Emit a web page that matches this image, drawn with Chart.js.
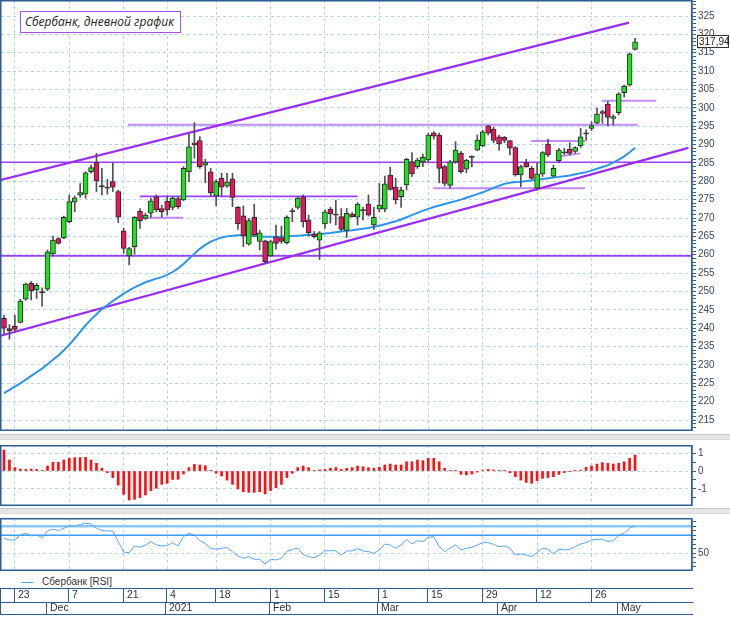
<!DOCTYPE html>
<html>
<head>
<meta charset="utf-8">
<script src="https://cdn.jsdelivr.net/npm/chart.js"></script>
<style>
body { margin: 0; background: #fff; }
#wrap { position: relative; width: 730px; height: 617px; overflow: hidden; background: #fff; }
#wrap canvas { position: absolute; left: 0; }
.sep { position: absolute; left: 0; width: 730px; height: 4px; background: #e6e6e6; border-top: 1px solid #c6c6c6; border-bottom: 1px solid #d8d8d8; }
#title { position: absolute; left: 20px; top: 11px; width: 161px; height: 22px; box-sizing: border-box; border: 1px solid #a64dff; background: #fff;
  font: italic 12px "Open Sans", sans-serif; color: #222; line-height: 19px; padding-left: 4px; white-space: nowrap; }
#legend { position: absolute; left: 21px; top: 575px; height: 13px; font: 10px "Liberation Sans", sans-serif; color: #333; line-height: 13px; }
#legend span { display: inline-block; width: 12px; height: 1px; background: #4da3ff; vertical-align: middle; margin-right: 9px; }
</style>
</head>
<body>
<div id="wrap">
  <canvas id="main" width="730" height="431" style="top:0"></canvas>
  <div class="sep" style="top:434px"></div>
  <canvas id="macd" width="730" height="61" style="top:445px"></canvas>
  <div class="sep" style="top:508px"></div>
  <canvas id="rsi" width="730" height="53" style="top:518px"></canvas>
  <div id="legend"><span></span>Сбербанк [RSI]</div>
  <canvas id="dates" width="730" height="31" style="top:586px"></canvas>
  <div id="title">Сбербанк, дневной график</div>
</div>
<script>
// daily candles, index 0 = 19 Nov 2020
var opens = [242.7,239.9,240.5,241.6,247.9,252.2,250.4,249.9,250.6,260.2,
  264.4,264.6,269.0,274.3,276.2,276.5,282.6,285.1,278.7,278.3,
  279.9,277.2,266.5,259.7,262.2,271.9,269.9,271.3,275.8,272.6,
  274.6,272.9,275.3,274.9,282.6,290.5,291.1,284.4,282.6,276.0,
  280.8,278.7,280.7,272.9,270.6,262.9,270.2,263.6,263.8,259.7,
  264.9,264.6,263.3,271.9,272.9,275.8,269.5,265.6,264.0,268.4,
  272.4,271.0,270.4,266.6,271.1,270.2,272.2,273.8,268.1,272.4,
  272.4,281.7,278.4,275.8,279.0,285.3,284.0,285.3,285.8,293.2,
  292.6,284.0,278.9,285.3,287.6,283.3,286.7,288.5,289.6,295.1,
  294.2,292.1,292.0,291.1,289.2,281.7,285.1,283.5,278.1,282.0,
  290.1,281.4,285.6,287.8,288.8,288.1,289.6,293.1,294.4,295.8,
  299.0,301.0,297.1,298.7,304.1,306.2,315.9];
var highs = [243.5,241.0,243.6,247.9,252.3,252.7,252.2,251.0,261.3,265.1,
  264.7,270.5,276.3,276.0,279.4,282.6,284.4,287.6,283.5,280.5,
  285.1,277.6,267.2,262.0,270.4,272.6,271.3,275.4,276.3,273.5,
  276.0,275.8,275.8,284.0,293.0,296.0,292.2,286.0,283.5,280.4,
  282.2,282.2,282.2,273.1,273.3,269.9,273.8,266.7,264.0,264.0,
  268.1,267.8,270.6,272.6,275.8,276.3,270.8,266.3,266.3,272.2,
  272.9,274.9,272.6,272.6,271.5,274.2,272.9,276.3,272.9,279.4,
  281.4,283.8,280.8,278.4,286.3,287.8,286.3,287.4,293.1,293.5,
  293.1,284.4,285.7,290.8,288.1,286.0,286.9,292.6,293.9,295.2,
  294.7,292.6,292.2,291.1,289.4,284.4,286.0,284.0,284.9,288.1,
  291.4,284.4,289.0,289.0,290.5,289.4,294.4,294.0,296.2,299.9,
  299.4,301.7,298.1,304.1,306.2,315.0,318.9];
var lows = [238.5,237.0,239.0,241.4,247.6,247.7,248.1,246.0,250.2,259.7,
  262.9,264.4,268.7,271.7,275.6,275.4,282.2,277.2,276.3,276.5,
  277.2,268.7,260.4,257.2,260.2,267.2,269.6,270.2,271.7,270.2,
  270.8,272.2,272.6,274.7,279.9,286.3,283.5,279.6,275.8,273.3,
  276.0,278.3,273.1,266.9,262.2,262.6,264.9,261.3,257.7,259.5,
  261.5,263.1,262.9,269.0,272.4,267.5,265.1,264.6,258.7,267.2,
  268.6,268.1,266.5,264.7,270.2,268.1,269.5,270.5,266.9,271.7,
  271.7,277.6,273.8,272.9,277.6,281.3,283.5,284.0,285.3,291.5,
  279.6,278.7,278.1,284.9,282.2,282.3,284.0,288.3,289.4,292.6,
  290.5,288.5,290.5,287.2,281.4,278.5,283.8,280.5,277.6,281.3,
  286.7,281.1,285.1,287.2,287.2,287.6,289.2,291.1,293.8,295.6,
  295.8,295.1,295.3,298.1,302.9,305.9,315.7];
var closes = [240.0,239.3,239.7,247.4,252.0,250.2,251.7,249.8,260.8,264.0,
  263.1,270.2,274.5,275.5,276.9,282.3,283.7,280.1,278.6,278.2,
  278.4,270.2,261.7,261.7,270.2,269.3,270.8,274.7,272.2,271.7,
  272.2,275.4,273.1,283.5,289.4,289.9,284.0,285.1,276.9,279.9,
  278.4,279.8,275.6,268.4,265.1,269.3,265.4,266.0,258.1,263.6,
  263.1,263.6,270.2,271.8,275.4,269.0,266.0,264.9,266.0,271.7,
  271.1,270.9,266.9,271.3,270.4,273.8,272.1,270.8,270.2,273.5,
  279.3,277.8,274.9,277.6,286.0,282.0,285.8,286.5,292.6,292.3,
  283.5,279.4,285.3,288.5,282.6,285.8,286.6,291.2,293.5,293.1,
  291.1,290.2,291.1,289.0,281.7,284.0,284.0,280.8,282.0,287.8,
  287.2,283.5,288.5,287.9,287.6,289.2,292.1,293.0,295.2,298.3,
  298.5,297.4,297.6,303.8,305.9,314.7,317.94];
// moving average (blue line)
var maValues = [222.3,223.2,224.1,225.0,226.0,227.0,228.0,229.0,230.2,231.4,
  232.6,234.0,235.5,237.2,239.0,240.8,242.4,243.8,245.2,246.3,
  247.4,248.4,249.4,250.3,251.1,251.8,252.5,253.0,253.5,253.9,
  254.5,255.3,256.3,257.5,258.9,260.3,261.6,262.7,263.6,264.2,
  264.7,265.0,265.2,265.3,265.3,265.2,265.1,265.0,264.9,264.9,
  264.9,264.9,265.0,265.1,265.2,265.3,265.4,265.5,265.6,265.8,
  265.9,266.1,266.3,266.5,266.7,266.9,267.1,267.3,267.6,267.9,
  268.3,268.7,269.1,269.6,270.2,270.8,271.4,272.0,272.5,273.0,
  273.4,273.8,274.2,274.6,275.0,275.5,276.0,276.5,277.0,277.6,
  278.2,278.8,279.3,279.6,279.8,279.9,280.1,280.2,280.4,280.6,
  280.8,281.0,281.2,281.4,281.6,281.9,282.2,282.5,282.9,283.4,
  283.9,284.4,285.1,285.9,286.8,287.9,289.1];
// oscillator histogram (middle panel)
var macdValues = [1.18,0.62,0.19,0.11,0.09,0.11,0.09,0.04,0.28,0.49,
  0.49,0.62,0.71,0.75,0.75,0.77,0.62,0.43,0.15,-0.09,
  -0.37,-0.79,-1.31,-1.63,-1.59,-1.50,-1.35,-1.10,-0.97,-0.75,
  -0.69,-0.47,-0.47,-0.17,0.19,0.37,0.34,0.30,0.02,-0.13,
  -0.28,-0.51,-0.75,-1.01,-1.16,-1.20,-1.20,-1.16,-1.29,-1.10,
  -0.94,-0.75,-0.37,-0.13,0.19,0.28,0.19,0.02,0.06,0.09,
  0.15,0.19,0.09,0.15,0.19,0.28,0.24,0.19,0.15,0.21,
  0.34,0.39,0.34,0.34,0.52,0.52,0.62,0.58,0.71,0.71,
  0.52,0.15,0.02,0.01,-0.19,-0.22,-0.17,-0.06,0.05,0.10,
  0.06,0.04,0.01,-0.10,-0.32,-0.51,-0.64,-0.69,-0.54,-0.41,
  -0.37,-0.32,-0.19,-0.09,-0.04,0.01,0.05,0.21,0.28,0.39,
  0.47,0.43,0.39,0.43,0.52,0.71,0.90];
var rsiValues = [66.7,64.8,64.8,70.4,72.3,69.2,70.4,67.4,75.2,76.7,
  75.2,77.8,80.4,80.4,81.9,83.4,82.6,77.8,75.2,74.8,
  74.8,63.0,51.2,50.7,58.1,56.7,58.9,63.0,59.3,58.1,
  58.6,61.8,58.1,68.5,72.3,70.4,64.0,61.1,55.6,54.4,
  55.6,56.3,51.9,47.0,44.4,46.3,43.3,43.3,38.2,43.3,
  42.6,44.4,51.9,54.4,55.6,48.8,46.3,45.1,48.1,52.6,
  53.0,52.6,48.1,52.6,52.6,55.2,52.6,51.9,50.0,53.7,
  60.3,59.3,55.6,59.3,65.5,60.3,64.0,63.0,67.7,68.5,
  57.4,51.9,55.6,59.3,53.7,55.6,56.7,59.3,61.8,61.8,
  60.0,57.4,58.1,55.6,48.1,49.3,48.1,46.3,50.7,55.6,
  54.4,49.3,54.4,53.7,54.4,57.4,60.3,61.8,64.8,65.5,
  65.5,63.0,64.0,70.4,72.3,77.8,80.4];
var rsiLevels = [70, 80];

// date axis: candle index -> label
var dayTickIdx = [2, 12, 22, 30, 39, 49, 59, 69, 78, 88, 98, 108];
var dayTickLabels = ['23', '7', '21', '4', '18', '1', '15', '1', '15', '29', '12', '26'];
var monthIdx = [8, 30, 49, 69, 91, 113];
var monthLabels = ['Dec', '2021', 'Feb', 'Mar', 'Apr', 'May'];

// drawn lines [x0, price0, x1, price1] in candle index / price units
var channelLines = [[-0.74, 280.3, 114.9, 323.2], [-0.74, 237.9, 125.8, 289.1]];
var levelLines = [[-1, 285.2, 127.5, 285.2], [25.0, 275.9, 65.0, 275.9], [-1, 259.7, 127.5, 259.7]];
var softLines = [[22.8, 295.4, 116.5, 295.4], [25.0, 270.1, 32.9, 270.1], [78.9, 278.1, 106.8, 278.1],
  [96.9, 291.0, 106.8, 291.0], [109.9, 301.9, 119.9, 301.9], [101.8, 286.7, 105.9, 287.6]];

var X_MIN = -0.551, X_MAX = 126.47;
var GRID = '#b5d4f4';
var AXIS = '#2d5d91';
var LABEL = '#3a4a60';
var GREEN = '#1fe01f';
var RED = '#e8175d';
var FONT = { family: 'Liberation Sans', size: 10 };

function xScale() {
  return {
    type: 'linear', min: X_MIN, max: X_MAX, offset: false,
    grid: { color: GRID, drawTicks: false, offset: false },
    border: { display: false, dash: [3, 3] },
    ticks: { display: false },
    afterBuildTicks: function(s) { s.ticks = dayTickIdx.map(function(v) { return { value: v }; }); },
    afterFit: function(s) { s.height = 0; s.paddingLeft = 0; s.paddingRight = 0; }
  };
}

function yScale(min, max, from, step, isMajor, isLabel) {
  return {
    position: 'right', min: min, max: max,
    afterBuildTicks: function(s) {
      var t = [];
      for (var v = from; v <= max; v += step) t.push({ value: Math.round(v * 100) / 100 });
      s.ticks = t;
    },
    afterFit: function(s) { s.width = 38; s.paddingTop = 0; s.paddingBottom = 0; },
    ticks: {
      autoSkip: false, padding: 2, color: LABEL, font: FONT,
      callback: function(v) { return isLabel(v) ? String(v) : ''; }
    },
    grid: {
      color: function(c) { return isMajor(c.tick.value) ? GRID : 'rgba(0,0,0,0)'; },
      tickColor: AXIS, tickLength: 4
    },
    border: { display: true, color: AXIS, width: 1.5, dash: [3, 3] }
  };
}

var framePlugin = {
  id: 'frame',
  afterDraw: function(chart) {
    var a = chart.chartArea, ctx = chart.ctx;
    ctx.save();
    ctx.strokeStyle = AXIS;
    ctx.lineWidth = 1.5;
    ctx.strokeRect(a.left - 0.25, a.top + 0.75, a.right - a.left, a.bottom - a.top - 1.5);
    ctx.restore();
  }
};

var priceTagPlugin = {
  id: 'priceTag',
  afterDraw: function(chart) {
    var last = closes[closes.length - 1];
    var y = Math.round(chart.scales.y.getPixelForValue(last));
    var ctx = chart.ctx, x0 = chart.chartArea.right + 5;
    ctx.save();
    ctx.fillStyle = '#fff';
    ctx.fillRect(x0, y - 7, 32, 13);
    ctx.strokeStyle = '#333';
    ctx.lineWidth = 1;
    ctx.strokeRect(x0 + 0.5, y - 6.5, 31, 12);
    ctx.fillStyle = '#222';
    ctx.font = '10px "Liberation Sans"';
    ctx.textBaseline = 'middle';
    ctx.fillText(last.toFixed(2).replace('.', ','), x0 + 2, y);
    ctx.restore();
  }
};

function seg(s, color, width) {
  return { type: 'line', data: [{ x: s[0], y: s[1] }, { x: s[2], y: s[3] }],
    borderColor: color, borderWidth: width, pointRadius: 0, order: 3 };
}

var wickData = closes.map(function(c, i) { return { x: i, y: [lows[i], highs[i]] }; });
var bodyData = closes.map(function(c, i) {
  var o = opens[i];
  if (Math.abs(c - o) < 0.3) {
    var m = (o + c) / 2;
    return { x: i, y: [m - 0.15, m + 0.15], doji: true };
  }
  return { x: i, y: [o, c], up: c > o };
});

var mainSets = [
  { type: 'bar', data: wickData, barThickness: 1, backgroundColor: '#505050', grouped: false, order: 1 },
  { type: 'bar', data: bodyData, barThickness: 5, grouped: false, order: 0,
    backgroundColor: function(c) { var r = c.raw; return r.doji ? '#333' : (r.up ? GREEN : RED); },
    borderColor: '#2a2a2a', borderWidth: 1, borderSkipped: false },
  { type: 'line', data: maValues.map(function(v, i) { return { x: i, y: v }; }),
    borderColor: '#2b95f0', borderWidth: 2, pointRadius: 0, order: 2 }
];
channelLines.forEach(function(s) { mainSets.push(seg(s, '#9a2cf5', 2.2)); });
levelLines.forEach(function(s) { mainSets.push(seg(s, '#9d3fff', 1.6)); });
softLines.forEach(function(s) { mainSets.push(seg(s, '#c18bff', 2)); });

new Chart(document.getElementById('main'), {
  type: 'bar',
  data: { datasets: mainSets },
  options: {
    responsive: false, animation: false, events: [],
    layout: { padding: { left: 1, top: 0, right: 0, bottom: 0 } },
    plugins: { legend: { display: false }, tooltip: { enabled: false } },
    scales: {
      x: xScale(),
      y: yScale(212.01, 329.36, 213, 1,
        function(v) { return v % 5 === 0; }, function(v) { return v % 5 === 0; })
    }
  },
  plugins: [framePlugin, priceTagPlugin]
});

new Chart(document.getElementById('macd'), {
  type: 'bar',
  data: { datasets: [{ data: macdValues.map(function(v, i) { return { x: i, y: v }; }),
    barThickness: 2, backgroundColor: '#ff1010', grouped: false }] },
  options: {
    responsive: false, animation: false, events: [],
    layout: { padding: { left: 1, top: 0, right: 0, bottom: 0 } },
    plugins: { legend: { display: false }, tooltip: { enabled: false } },
    scales: {
      x: xScale(),
      y: yScale(-1.966, 1.461, -1.5, 0.5,
        function(v) { return Number.isInteger(v); }, function(v) { return Number.isInteger(v); })
    }
  },
  plugins: [framePlugin]
});

var rsiSets = [{ data: rsiValues.map(function(v, i) { return { x: i, y: v }; }),
  borderColor: '#58a8ff', borderWidth: 1, pointRadius: 0, order: 0 }];
rsiSets.push({ data: [{ x: -1, y: rsiLevels[1] }, { x: 127.5, y: rsiLevels[1] }],
  borderColor: '#8cc6ff', borderWidth: 2.5, pointRadius: 0, order: 1 });
rsiSets.push({ data: [{ x: -1, y: rsiLevels[0] }, { x: 127.5, y: rsiLevels[0] }],
  borderColor: '#3b9cf5', borderWidth: 1.5, pointRadius: 0, order: 1 });

new Chart(document.getElementById('rsi'), {
  type: 'line',
  data: { datasets: rsiSets },
  options: {
    responsive: false, animation: false, events: [],
    layout: { padding: { left: 1, top: 0, right: 0, bottom: 0 } },
    plugins: { legend: { display: false }, tooltip: { enabled: false } },
    scales: {
      x: xScale(),
      y: yScale(30.3, 89.2, 35, 5,
        function(v) { return v === 50; }, function(v) { return v === 50; })
    }
  },
  plugins: [framePlugin]
});

// two-row date table under the panels
var dateTablePlugin = {
  id: 'dateTable',
  afterDraw: function(chart) {
    var ctx = chart.ctx, x = chart.scales.x, right = chart.chartArea.right + 1;
    var rows = [2.5, 16.5, 28.5];
    ctx.save();
    ctx.strokeStyle = AXIS;
    ctx.lineWidth = 1;
    ctx.beginPath();
    rows.forEach(function(r) { ctx.moveTo(0, r); ctx.lineTo(right, r); });
    ctx.moveTo(0.5, rows[0]); ctx.lineTo(0.5, rows[2]);
    dayTickIdx.forEach(function(v) {
      var px = Math.round(x.getPixelForValue(v)) - 0.5;
      ctx.moveTo(px, rows[0]); ctx.lineTo(px, rows[1]);
    });
    monthIdx.forEach(function(v) {
      var px = Math.round(x.getPixelForValue(v)) - 1.5;
      ctx.moveTo(px, rows[1]); ctx.lineTo(px, rows[2]);
    });
    ctx.stroke();
    ctx.fillStyle = '#333';
    ctx.font = '10.5px "Liberation Sans"';
    ctx.textBaseline = 'middle';
    dayTickIdx.forEach(function(v, i) {
      ctx.fillText(dayTickLabels[i], Math.round(x.getPixelForValue(v)) + 3, 9.5);
    });
    monthIdx.forEach(function(v, i) {
      ctx.fillText(monthLabels[i], Math.round(x.getPixelForValue(v)) + 2, 22.5);
    });
    ctx.restore();
  }
};

new Chart(document.getElementById('dates'), {
  type: 'line',
  data: { datasets: [] },
  options: {
    responsive: false, animation: false, events: [],
    layout: { padding: { left: 1, top: 0, right: 38, bottom: 0 } },
    plugins: { legend: { display: false }, tooltip: { enabled: false } },
    scales: {
      x: { type: 'linear', min: X_MIN, max: X_MAX, display: false },
      y: { display: false }
    }
  },
  plugins: [dateTablePlugin]
});
</script>
</body>
</html>
